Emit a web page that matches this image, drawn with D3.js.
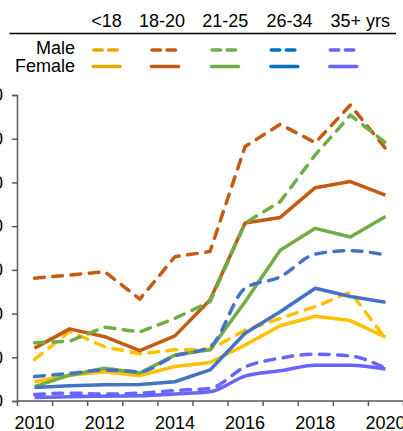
<!DOCTYPE html>
<html><head><meta charset="utf-8">
<script src="https://cdn.jsdelivr.net/npm/d3@7"></script>
<style>body{margin:0;background:#fff;overflow:hidden}svg{display:block;font-family:"Liberation Sans",Arial,sans-serif}</style>
</head><body><svg id="c" width="403" height="431"></svg>
<script>
const years = [2010,2011,2012,2013,2014,2015,2016,2017,2018,2019,2020];
const yTicks = [0,10,20,30,40,50,60,70];
const xLabels = [2010,2012,2014,2016,2018,2020];
const groups = ["<18","18-20","21-25","26-34","35+ yrs"];
const rowLabels = ["Male","Female"];
const lineColors = ["#FFC000","#C55A11","#70AD47","#4472C4","#6666FF"];
const legendColors = ["#E5AA00","#C55A11","#70AD47","#0070C0","#6666FF"];
const maleU18   = [9.5,15.9,12.4,10.8,11.7,11.8,16.2,18.9,21.6,24.9,14.3];
const femaleU18 = [4.4,5.9,6.7,5.8,7.9,8.8,12.8,17.2,19.4,18.4,14.6];
const male1820   = [28.1,28.8,29.6,23.3,33.0,34.2,58.2,63.3,59.1,67.7,57.8];
const female1820 = [12.1,16.5,14.7,11.5,14.9,23.1,40.7,42.0,48.8,50.2,47.1];
const male2125   = [13.3,13.7,16.9,15.8,18.9,22.7,40.7,45.6,56.3,65.4,59.1];
const female2125 = [3.3,5.9,7.5,6.4,10.5,11.7,22.7,34.5,39.5,37.5,42.2];
const male2634   = [5.6,6.3,7.1,6.7,10.3,12.4,25.8,28.4,33.6,34.4,33.4];
const female2634 = [3.1,3.5,3.7,3.8,4.4,7.1,15.5,20.4,25.8,23.9,22.6];
const male35   = [1.5,1.8,1.6,1.8,2.4,2.9,7.8,9.8,10.7,10.3,7.5];
const female35 = [0.8,1.0,1.1,1.2,1.6,2.1,5.7,6.9,8.2,8.2,7.3];

const series = [
  {g:0,male:true,v:maleU18},{g:0,male:false,v:femaleU18},
  {g:1,male:true,v:male1820},{g:1,male:false,v:female1820},
  {g:2,male:true,v:male2125},{g:2,male:false,v:female2125},
  {g:3,male:true,v:male2634,smooth:true},{g:3,male:false,v:female2634},
  {g:4,male:true,v:male35,smooth:true},{g:4,male:false,v:female35,smooth:true}
];

const svg = d3.select("#c");
const L=17, R=403, T=95, B=401;
const x = d3.scaleBand().domain(years).range([L,R]).padding(0);
const y = d3.scaleLinear().domain([0,70]).range([B,T]);
const axisColor="#595959";

// y axis
const ya = svg.append("g").attr("transform",`translate(${L},0)`)
  .call(d3.axisLeft(y).tickValues(yTicks).tickSize(5).tickPadding(9).tickFormat(d3.format("d")));
ya.select(".domain").attr("stroke",axisColor).attr("stroke-width",1.5);
ya.selectAll(".tick line").attr("stroke",axisColor).attr("stroke-width",1.5);
ya.selectAll("text").attr("font-size",18).attr("fill","#000").attr("font-family","Liberation Sans, Arial, sans-serif");

// x axis: ticks at band boundaries
const xl = d3.scaleLinear().domain([0,11]).range([L,R]);
const xa = svg.append("g").attr("transform",`translate(0,${B})`)
  .call(d3.axisBottom(xl).tickValues(d3.range(0,12)).tickSize(5).tickFormat(""));
xa.select(".domain").attr("stroke",axisColor).attr("stroke-width",1.5).attr("d",`M${L},0H${R}`);
xa.selectAll(".tick line").attr("stroke",axisColor).attr("stroke-width",1.5);
svg.append("g").selectAll("text").data(xLabels).join("text")
  .attr("x",d=>x(d)+x.bandwidth()/2).attr("y",429).attr("text-anchor","middle")
  .attr("font-size",18).attr("fill","#000").text(d=>d);

// lines
const lines = svg.append("g");
series.forEach(s=>{
  const line = d3.line().x((d,i)=>x(years[i])+x.bandwidth()/2).y(d=>y(d))
    .curve(s.smooth?d3.curveMonotoneX:d3.curveLinear);
  lines.append("path").datum(s.v).attr("d",line).attr("fill","none")
    .attr("stroke",lineColors[s.g]).attr("stroke-width",3.5)
    .attr("stroke-linejoin","round")
    .attr("stroke-linecap",s.male?"round":"butt")
    .attr("stroke-dasharray",s.male?"9.8,8.5":null);
});

// legend
const headX = [106.5,162,225.3,289.5,360.3];
const swX = [91.7,150,210,269.3,328.3];
svg.append("g").selectAll("text").data(groups).join("text")
  .attr("x",(d,i)=>headX[i]).attr("y",27).attr("text-anchor","middle")
  .attr("font-size",18).attr("fill","#000").text(d=>d);
svg.append("line").attr("x1",9.5).attr("x2",396).attr("y1",33.5).attr("y2",33.5)
  .attr("stroke","#000").attr("stroke-width",1.3);
svg.append("g").selectAll("text").data(rowLabels).join("text")
  .attr("x",75).attr("y",(d,i)=>i?71.5:54).attr("text-anchor","end")
  .attr("font-size",18).attr("fill","#000").text(d=>d);
groups.forEach((g,i)=>{
  svg.append("line").attr("x1",swX[i]+2).attr("x2",swX[i]+28).attr("y1",50).attr("y2",50)
    .attr("stroke",legendColors[i]).attr("stroke-width",3.5).attr("stroke-linecap","round")
    .attr("stroke-dasharray","8.5,6.5");
  svg.append("line").attr("x1",swX[i]+1.5).attr("x2",swX[i]+28.5).attr("y1",66.5).attr("y2",66.5)
    .attr("stroke",legendColors[i]).attr("stroke-width",3.5).attr("stroke-linecap","round");
});
</script></body></html>
